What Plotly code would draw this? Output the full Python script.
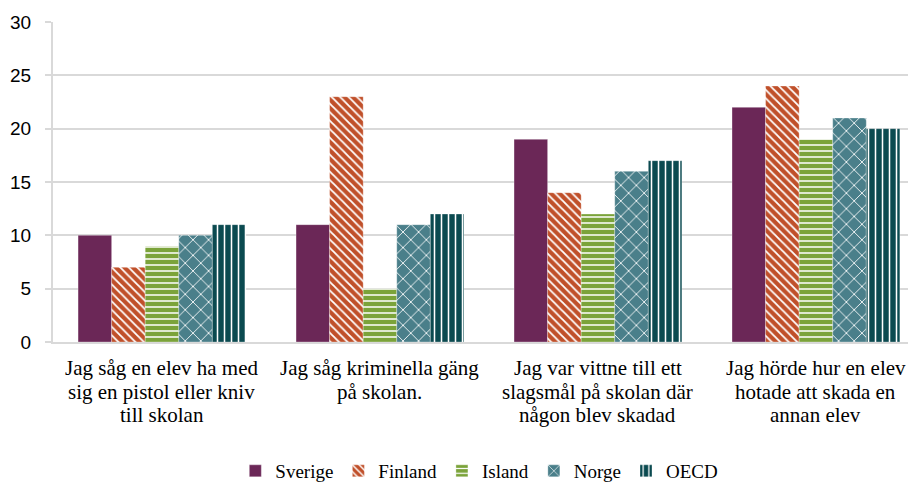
import plotly.graph_objects as go

categories = [
    "Jag såg en elev ha med<br>sig en pistol eller kniv<br>till skolan",
    "Jag såg kriminella gäng<br>på skolan.",
    "Jag var vittne till ett<br>slagsmål på skolan där<br>någon blev skadad",
    "Jag hörde hur en elev<br>hotade att skada en<br>annan elev",
]
sverige = [10, 11, 19, 22]
finland = [7, 23, 14, 24]
island = [9, 5, 12, 19]
norge = [10, 11, 16, 21]
oecd = [11, 12, 17, 20]

series = [
    ("Sverige", sverige, "#6B2757", "", 0, 0),
    ("Finland", finland, "#C0502A", "\\", 6, 0.3),
    ("Island", island, "#7BA33A", "-", 6, 0.25),
    ("Norge", norge, "#4A7F8A", "x", 11, 0.15),
    ("OECD", oecd, "#0B4A50", "|", 7, 0.22),
]

SERIF = "Times New Roman, Liberation Serif, serif"

fig = go.Figure()
for name, vals, col, shape, sz, sol in series:
    marker = dict(color=col, line=dict(width=0.6, color="rgba(255,255,255,0.5)"))
    if shape:
        marker["pattern"] = dict(shape=shape, fgcolor="white", bgcolor=col,
                                 size=sz, solidity=sol, fillmode="replace")
    fig.add_trace(go.Bar(name=name, x=list(range(len(categories))), y=vals, marker=marker))

# category labels, one annotation per line for tighter line spacing
for i, cat in enumerate(categories):
    for k, line in enumerate(cat.split("<br>")):
        fig.add_annotation(x=i, xref="x", y=0, yref="y", text=line, showarrow=False,
                           yanchor="top", xanchor="center", yshift=-(12 + 23.5 * k),
                           font=dict(family=SERIF, size=21, color="black"))

fig.update_layout(
    width=908, height=482,
    barmode="group", bargap=0.23, bargroupgap=0,
    plot_bgcolor="white", paper_bgcolor="white",
    margin=dict(l=45, r=0, t=14, b=148),
    showlegend=True,
    legend=dict(orientation="h", x=0.494, xanchor="center", y=-148 / 320, yanchor="bottom",
                font=dict(family=SERIF, size=19, color="black"),
                itemwidth=30, tracegroupgap=0),
    xaxis=dict(
        tickmode="array", tickvals=list(range(len(categories))),
        showticklabels=False,
        range=[-0.5, 3.459], showgrid=False, showline=True, linecolor="#D9D9D9",
        linewidth=2, ticks="", automargin=False,
    ),
    yaxis=dict(
        range=[0, 30], dtick=5, showgrid=True, gridcolor="#D9D9D9", gridwidth=2,
        showline=True, linecolor="#D9D9D9", linewidth=2, ticks="outside",
        tickcolor="#D9D9D9", ticklen=6, tickwidth=2, automargin=False,
        ticklabelstandoff=10,
        tickfont=dict(family="Arial, Liberation Sans, sans-serif", size=19, color="black"),
        zeroline=False,
    ),
)
fig.write_html("out.html")
